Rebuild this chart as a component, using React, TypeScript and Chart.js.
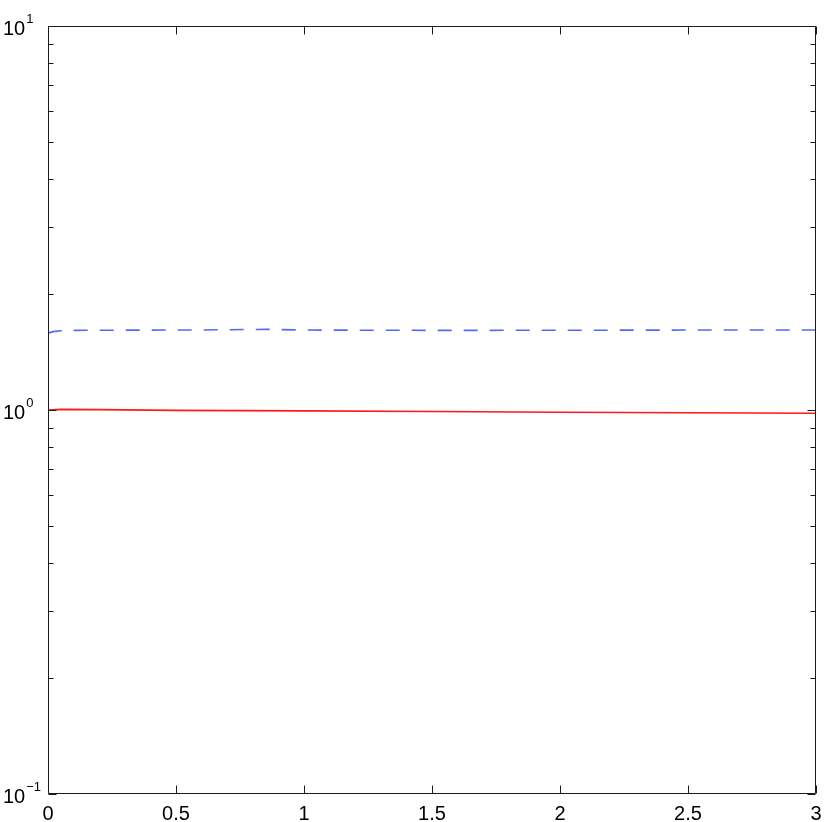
import React, { useEffect, useRef } from "react";
import { Chart, registerables } from "chart.js";

Chart.register(...registerables);

const redX = [0, 0.05, 0.2, 0.5, 1, 1.5, 2, 2.5, 3];
const redY = [1.0, 1.004, 1.002, 0.998, 0.995, 0.991, 0.987, 0.984, 0.981];

const blueX = [0, 0.02, 0.05, 0.1, 0.3, 0.6, 0.85, 1.0, 1.5, 2, 2.5, 3];
const blueY = [1.585, 1.6, 1.608, 1.612, 1.614, 1.616, 1.622, 1.615, 1.612, 1.613, 1.615, 1.615];

const xTicks = [0, 0.5, 1, 1.5, 2, 2.5, 3];
const xTickLabels = ["0", "0.5", "1", "1.5", "2", "2.5", "3"];
const yMajor = [0.1, 1, 10];
const yBase = "10";
const yExps = ["\u22121", "0", "1"];
const yMinor = [0.2, 0.3, 0.4, 0.5, 0.6, 0.7, 0.8, 0.9, 2, 3, 4, 5, 6, 7, 8, 9];

const FONT = "'Liberation Sans', Arial, Helvetica, sans-serif";

const axesPlugin = {
  id: "matlabAxes",
  afterDraw(chart: any) {
    const ctx = chart.ctx;
    const { left, right, top, bottom } = chart.chartArea;
    const xs = chart.scales.x;
    const ys = chart.scales.y;
    ctx.save();
    ctx.strokeStyle = "#1a1a1a";
    ctx.lineWidth = 1;
    const L = Math.round(left) + 0.5;
    const R = Math.round(right) - 0.5;
    const T = Math.round(top) + 0.5;
    const B = Math.round(bottom) - 0.5;
    ctx.beginPath();
    ctx.rect(L, T, R - L, B - T);
    ctx.stroke();

    const major = 8;
    const minor = 5;
    ctx.beginPath();
    xTicks.forEach((v) => {
      const px = Math.round(xs.getPixelForValue(v)) + 0.5;
      ctx.moveTo(px, B);
      ctx.lineTo(px, B - major);
      ctx.moveTo(px, T);
      ctx.lineTo(px, T + major);
    });
    yMajor.forEach((v) => {
      const py = Math.round(ys.getPixelForValue(v)) + 0.5;
      ctx.moveTo(L, py);
      ctx.lineTo(L + major, py);
      ctx.moveTo(R, py);
      ctx.lineTo(R - major, py);
    });
    yMinor.forEach((v) => {
      const py = Math.round(ys.getPixelForValue(v)) + 0.5;
      ctx.moveTo(L, py);
      ctx.lineTo(L + minor, py);
      ctx.moveTo(R, py);
      ctx.lineTo(R - minor, py);
    });
    ctx.stroke();

    ctx.fillStyle = "#000";
    ctx.font = `20px ${FONT}`;
    ctx.textAlign = "center";
    ctx.textBaseline = "alphabetic";
    xTicks.forEach((v, i) => {
      const px = xs.getPixelForValue(v);
      ctx.fillText(xTickLabels[i], px, bottom + 26);
    });

    yMajor.forEach((v, i) => {
      const py = ys.getPixelForValue(v);
      ctx.textAlign = "left";
      ctx.font = `20px ${FONT}`;
      ctx.fillText(yBase, 3, py + 8.5);
      const w = ctx.measureText(yBase).width;
      ctx.font = `13px ${FONT}`;
      ctx.fillText(yExps[i], 3 + w + 1, py - 3);
    });
    ctx.restore();
  },
};

export default function App() {
  const ref = useRef<HTMLCanvasElement | null>(null);
  useEffect(() => {
    if (!ref.current) return;
    const chart = new Chart(ref.current, {
      type: "line",
      data: {
        datasets: [
          {
            data: redX.map((x, i) => ({ x, y: redY[i] })),
            borderColor: "rgb(255,25,25)",
            borderWidth: 1.6,
            pointRadius: 0,
            fill: false,
            tension: 0,
          },
          {
            data: blueX.map((x, i) => ({ x, y: blueY[i] })),
            borderColor: "rgb(80,105,248)",
            borderWidth: 1.6,
            borderDash: [14, 12],
            pointRadius: 0,
            fill: false,
            tension: 0,
          },
        ],
      },
      options: {
        responsive: false,
        animation: false,
        devicePixelRatio: 1,
        layout: { padding: { left: 48, top: 26, right: 14, bottom: 28 } },
        plugins: { legend: { display: false }, tooltip: { enabled: false } },
        scales: {
          x: { type: "linear", min: 0, max: 3, display: false },
          y: { type: "logarithmic", min: 0.1, max: 10, display: false },
        },
      },
      plugins: [axesPlugin],
    });
    return () => chart.destroy();
  }, []);
  return (
    <div style={{ position: "absolute", left: 0, top: 0, width: 830, height: 822, background: "#fff" }}>
      <canvas ref={ref} width={830} height={822} />
    </div>
  );
}
